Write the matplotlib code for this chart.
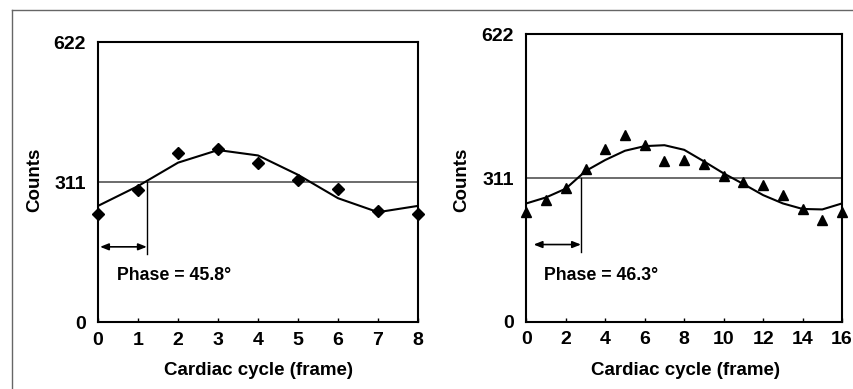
import matplotlib.pyplot as plt
from matplotlib.lines import Line2D

plt.rcParams['font.family'] = ['Liberation Sans', 'DejaVu Sans']
plt.rcParams['font.weight'] = 'bold'

# left panel: 8 frame study
frames_a = [0, 1, 2, 3, 4, 5, 6, 7, 8]
counts_a = [239, 293, 375, 384, 354, 316, 296, 246, 239]
fit_a = [258, 302, 354, 382, 370, 327, 275, 244, 258]
phase_a = "Phase = 45.8°"
cross_a = 1.22

# right panel: 16 frame study
frames_b = list(range(17))
counts_b = [237, 264, 290, 331, 373, 403, 382, 347, 350, 342, 315, 303, 295, 275, 245, 220, 237]
fit_b = [256, 269, 288, 326, 350, 370, 380, 382, 372, 347, 321, 298, 274, 256, 244, 243, 256]
phase_b = "Phase = 46.3°"
cross_b = 2.77

mean_count = 311
ymax = 622

fig = plt.figure(figsize=(8.54, 3.89), dpi=100)

# frame around the figure (top and left only)
fig.add_artist(Line2D([0.014, 0.999], [0.974, 0.974], color='#666666', lw=1))
fig.add_artist(Line2D([0.014, 0.014], [0.0, 0.974], color='#666666', lw=1))

ax1 = fig.add_axes([0.1148, 0.1722, 0.3747, 0.7198])
ax2 = fig.add_axes([0.6163, 0.1730, 0.3697, 0.7388])


def draw_panel(ax, frames, counts, fit, marker, cross, arrow_start, phase_text, text_x, text_y, xticks):
    n = frames[-1]
    ax.plot(frames, fit, color='black', lw=1.5, zorder=3)
    ax.plot(frames, counts, linestyle='none', marker=marker, color='black',
            markersize=6 if marker == 'D' else 7, clip_on=False, zorder=4)
    ax.axhline(mean_count, color='#444444', lw=1.1, zorder=2)
    ax.plot([cross, cross], [mean_count, 150], color='black', lw=1, zorder=2)
    ax.annotate('', xy=(cross, 167), xytext=(arrow_start, 167),
                arrowprops=dict(arrowstyle='<|-|>,head_length=0.5,head_width=0.2',
                                color='black', lw=1.2, shrinkA=0, shrinkB=0))
    ax.text(text_x, text_y, phase_text, fontsize=12.8, fontweight='bold',
            ha='left', va='center')
    ax.set_xlim(0, n)
    ax.set_ylim(0, ymax)
    ax.set_xticks(xticks)
    ax.set_yticks([0, mean_count, ymax])
    ax.tick_params(axis='x', direction='in', length=3, width=1, pad=7, labelsize=14)
    ax.tick_params(axis='y', length=0, pad=9, labelsize=14)
    for lab in ax.get_xticklabels() + ax.get_yticklabels():
        lab.set_fontweight('bold')
    for sp in ax.spines.values():
        sp.set_linewidth(1.5)
    ax.set_xlabel('Cardiac cycle (frame)', fontsize=13.5, fontweight='bold')
    ax.set_ylabel('Counts', fontsize=13.5, fontweight='bold')


draw_panel(ax1, frames_a, counts_a, fit_a, 'D', cross_a, 0.05, phase_a, 0.47, 103,
           frames_a)
draw_panel(ax2, frames_b, counts_b, fit_b, '^', cross_b, 0.37, phase_b, 0.88, 99,
           list(range(0, 17, 2)))

ax1.yaxis.set_label_coords(-0.172, 0.507)
ax1.xaxis.set_label_coords(0.5, -0.142)
ax2.yaxis.set_label_coords(-0.177, 0.493)
ax2.xaxis.set_label_coords(0.504, -0.139)

fig.savefig('out.png', dpi=100)
